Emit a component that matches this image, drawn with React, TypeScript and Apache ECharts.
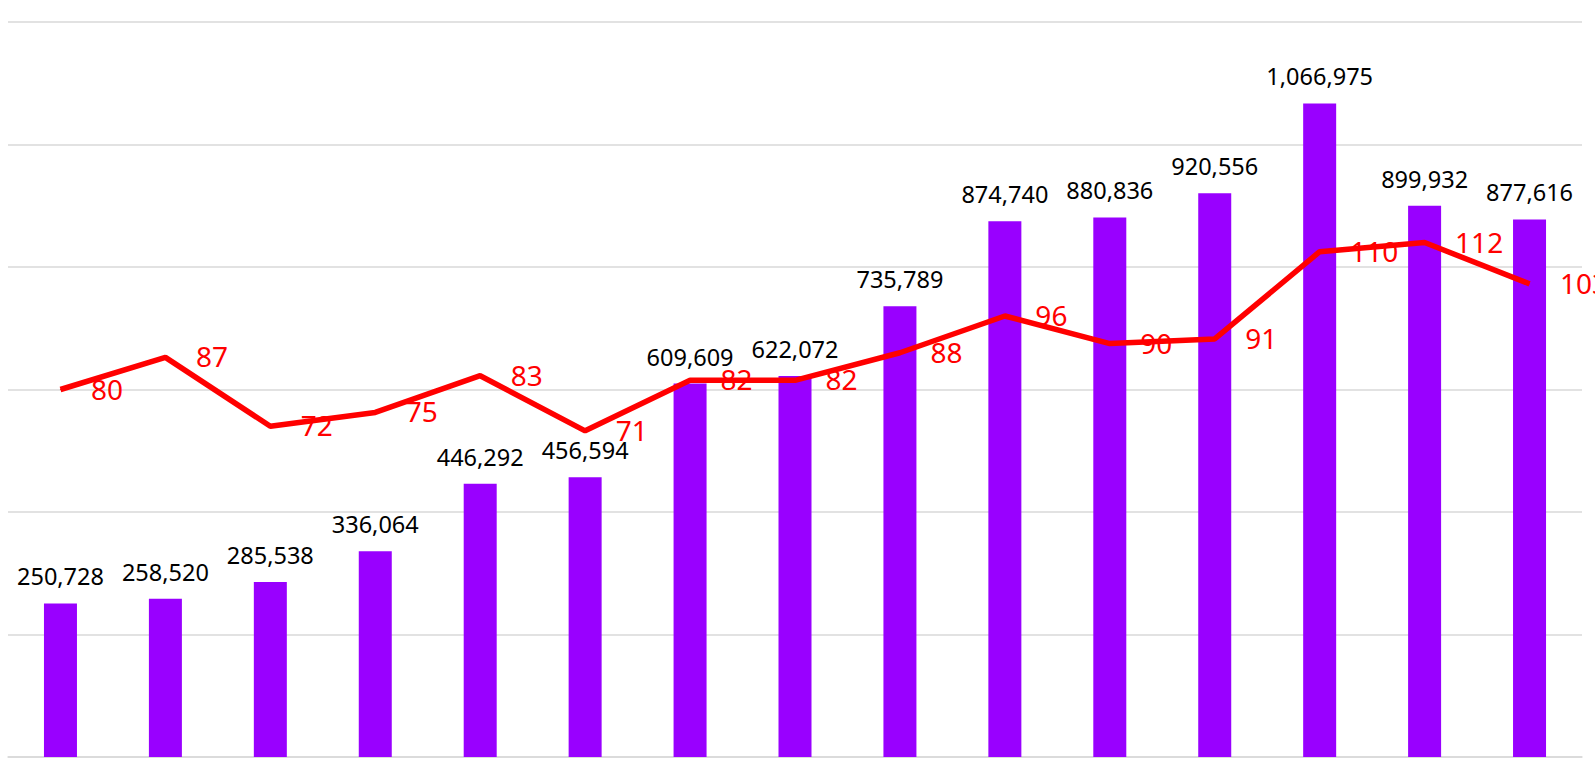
import React, { useEffect, useRef } from "react";
import * as echarts from "echarts";

const categories = ["1", "2", "3", "4", "5", "6", "7", "8", "9", "10", "11", "12", "13", "14", "15"];
const barValues = [250728, 258520, 285538, 336064, 446292, 456594, 609609, 622072, 735789, 874740, 880836, 920556, 1066975, 899932, 877616];
const lineValues = [80, 87, 72, 75, 83, 71, 82, 82, 88, 96, 90, 91, 110, 112, 103];

export default function App() {
  const ref = useRef<HTMLDivElement>(null);
  useEffect(() => {
    if (!ref.current) return;
    const chart = echarts.init(ref.current, undefined, { renderer: "svg" });
    const font = "'Noto Sans', 'Open Sans', sans-serif";
    chart.setOption({
      animation: false,
      grid: { left: 8, right: 13, top: 22, bottom: 11, containLabel: false },
      xAxis: {
        type: "category",
        data: categories,
        axisLine: { show: true, lineStyle: { color: "#d9d9d9", width: 1.5 } },
        axisTick: { show: false },
        axisLabel: { show: false },
      },
      yAxis: [
        {
          type: "value",
          min: 0,
          max: 1200000,
          interval: 200000,
          axisLabel: { show: false },
          axisLine: { show: false },
          axisTick: { show: false },
          splitLine: { show: true, lineStyle: { color: "#d9d9d9", width: 1.5 } },
        },
        {
          type: "value",
          min: 0,
          max: 160,
          axisLabel: { show: false },
          axisLine: { show: false },
          axisTick: { show: false },
          splitLine: { show: false },
        },
      ],
      series: [
        {
          type: "bar",
          data: barValues,
          barWidth: 33,
          itemStyle: { color: "#9900ff" },
          label: {
            show: true,
            position: "top",
            distance: 15,
            color: "#000000",
            fontSize: 23.5,
            fontFamily: font,
            formatter: (p: any) => Number(p.value).toLocaleString("en-US"),
          },
          z: 2,
        },
        {
          type: "line",
          yAxisIndex: 1,
          data: lineValues,
          showSymbol: true,
          symbol: "circle",
          symbolSize: 1,
          lineStyle: { color: "#ff0000", width: 5.5 },
          itemStyle: { color: "#ff0000" },
          label: {
            show: true,
            position: "right",
            distance: 30,
            offset: [0, -1],
            color: "#ff0000",
            fontSize: 28,
            fontFamily: font,
          },
          z: 3,
        },
      ],
    });
    return () => chart.dispose();
  }, []);
  return (
    <div
      ref={ref}
      style={{ position: "fixed", left: 0, top: 0, width: 1595, height: 768, background: "#ffffff" }}
    />
  );
}
